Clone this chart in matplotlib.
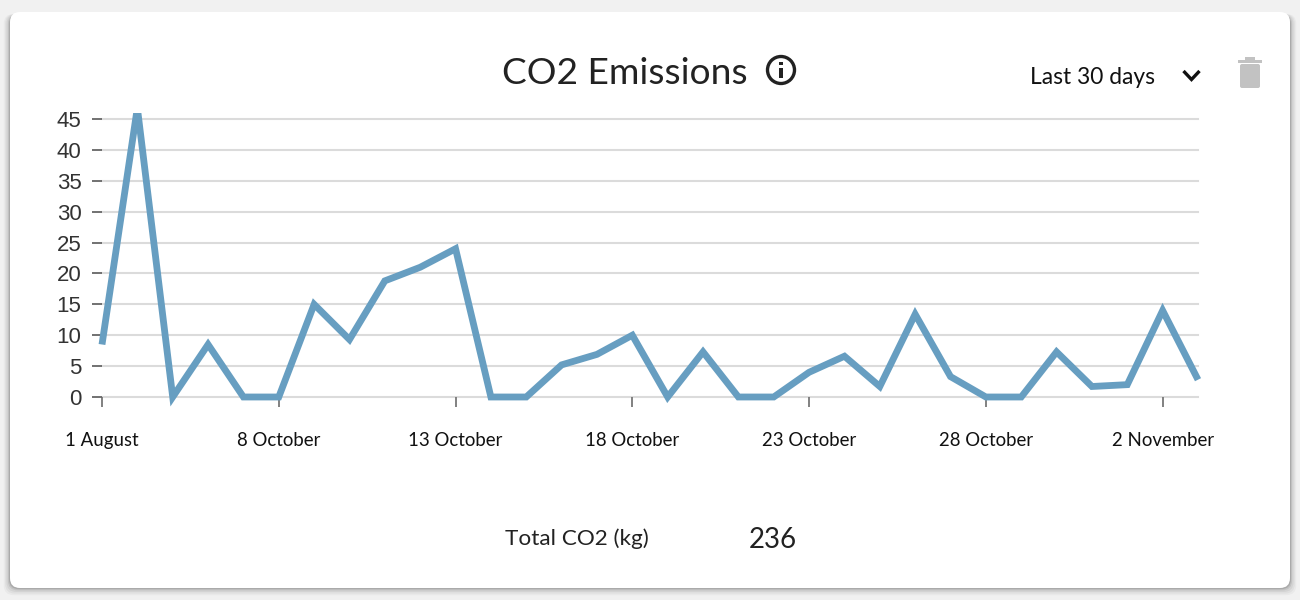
import matplotlib
matplotlib.use("Agg")
import matplotlib.pyplot as plt
from matplotlib.patches import FancyBboxPatch, Circle, Rectangle

# values
emissions = [8.5, 46.8, 0, 8.5, 0, 0, 15, 9.3, 18.8, 21, 24, 0, 0, 5.2, 6.9, 10,
             0, 7.3, 0, 0, 4, 6.6, 1.7, 13.4, 3.3, 0, 0, 7.3, 1.7, 2, 14, 2.8]
days = list(range(len(emissions)))
x_ticks = [0, 5, 10, 15, 20, 25, 30]
x_labels = ["1 August", "8 October", "13 October", "18 October",
            "23 October", "28 October", "2 November"]
y_ticks = [0, 5, 10, 15, 20, 25, 30, 35, 40, 45]

TITLE = "CO2 Emissions"
RANGE_LABEL = "Last 30 days"
TOTAL_LABEL = "Total CO2 (kg)"
TOTAL_VALUE = "236"

W, H = 1300, 600
LINE_COLOR = "#679ec1"
DARK = "#222222"
FONT = "Lato"

fig = plt.figure(figsize=(W / 100, H / 100), dpi=100, facecolor="#f1f1f1")

# page layer in pixel coordinates, for the card and the icons
bg = fig.add_axes([0, 0, 1, 1], zorder=0)
bg.set_xlim(0, W)
bg.set_ylim(H, 0)
bg.axis("off")

# soft shadow under the card
for grow, alpha in [(9, 0.03), (7, 0.04), (5, 0.05), (3, 0.08), (1.5, 0.12)]:
    bg.add_patch(FancyBboxPatch((10 - grow * 0.7, 14), 1280 + grow * 1.4, 574 + grow * 0.8,
                                boxstyle="round,pad=0,rounding_size=10",
                                fc="black", ec="none", alpha=alpha))
bg.add_patch(FancyBboxPatch((10, 12), 1280, 576, boxstyle="round,pad=0,rounding_size=10",
                            fc="white", ec="none"))

# chart area: 0 at y=397, 45 at y=119
y_top = 46
top_px = 397 - y_top * (397 - 119) / 45
ax = fig.add_axes([102 / W, 1 - 397 / H, (1198 - 102) / W, (397 - top_px) / H], zorder=1)
ax.patch.set_alpha(0)
ax.set_xlim(0, 31)
ax.set_ylim(0, y_top)
for s in ax.spines.values():
    s.set_visible(False)

for v in y_ticks:
    ax.axhline(v, color="#dbdbdb", lw=1.5, zorder=1, clip_on=False)

line, = ax.plot(days, emissions, color=LINE_COLOR, lw=4.9, zorder=3,
                solid_joinstyle="miter", solid_capstyle="butt", clip_on=False)
# cut the peak at the top of the plot, but leave the sharp points below zero
line.set_clip_path(Rectangle((-1, -4), 33, y_top + 4, transform=ax.transData))
line.set_clip_on(True)

ax.set_yticks(y_ticks)
ax.set_xticks(x_ticks)
ax.set_xticklabels(x_labels, fontfamily=FONT, fontsize=13.4, color="#111111")
ax.tick_params(axis="y", length=7.2, width=1.3, color="#666666", pad=7.5,
               labelsize=16, labelcolor="#333333")
ax.tick_params(axis="x", length=7.2, width=1.3, color="#777777", pad=18)
for t in ax.get_yticklabels():
    t.set_fontfamily("Liberation Sans")

# header
bg.text(624.5, 73, TITLE, fontfamily=FONT, fontsize=26.7, color=DARK, ha="center", va="center")
bg.add_patch(Circle((781, 70), 13.5, fc="none", ec=DARK, lw=2.4))
bg.add_patch(Rectangle((779.3, 68), 3.4, 10, fc=DARK, ec="none"))
bg.add_patch(Rectangle((779.3, 62), 3.4, 3.4, fc=DARK, ec="none"))

bg.text(1093, 77, RANGE_LABEL, fontfamily=FONT, fontsize=16.4, color="#111111", ha="center", va="center")
bg.plot([1183.5, 1191.5, 1199.5], [71, 79.5, 71], color="#111111", lw=2.4,
        solid_joinstyle="miter", solid_capstyle="butt")

# trash icon
bg.add_patch(FancyBboxPatch((1240, 64), 20, 24, boxstyle="round,pad=0,rounding_size=2",
                            fc="#c2c2c2", ec="none"))
bg.add_patch(Rectangle((1238, 59.5), 24, 3, fc="#c2c2c2", ec="none"))
bg.add_patch(Rectangle((1245, 57), 10, 3, fc="#c2c2c2", ec="none"))

# footer
bg.text(576.5, 539, TOTAL_LABEL, fontfamily=FONT, fontsize=16.2, color=DARK, ha="center", va="center")
bg.text(772.5, 540, TOTAL_VALUE, fontfamily=FONT, fontsize=20, color=DARK, ha="center", va="center")

fig.savefig("out.png", dpi=100, facecolor=fig.get_facecolor())
